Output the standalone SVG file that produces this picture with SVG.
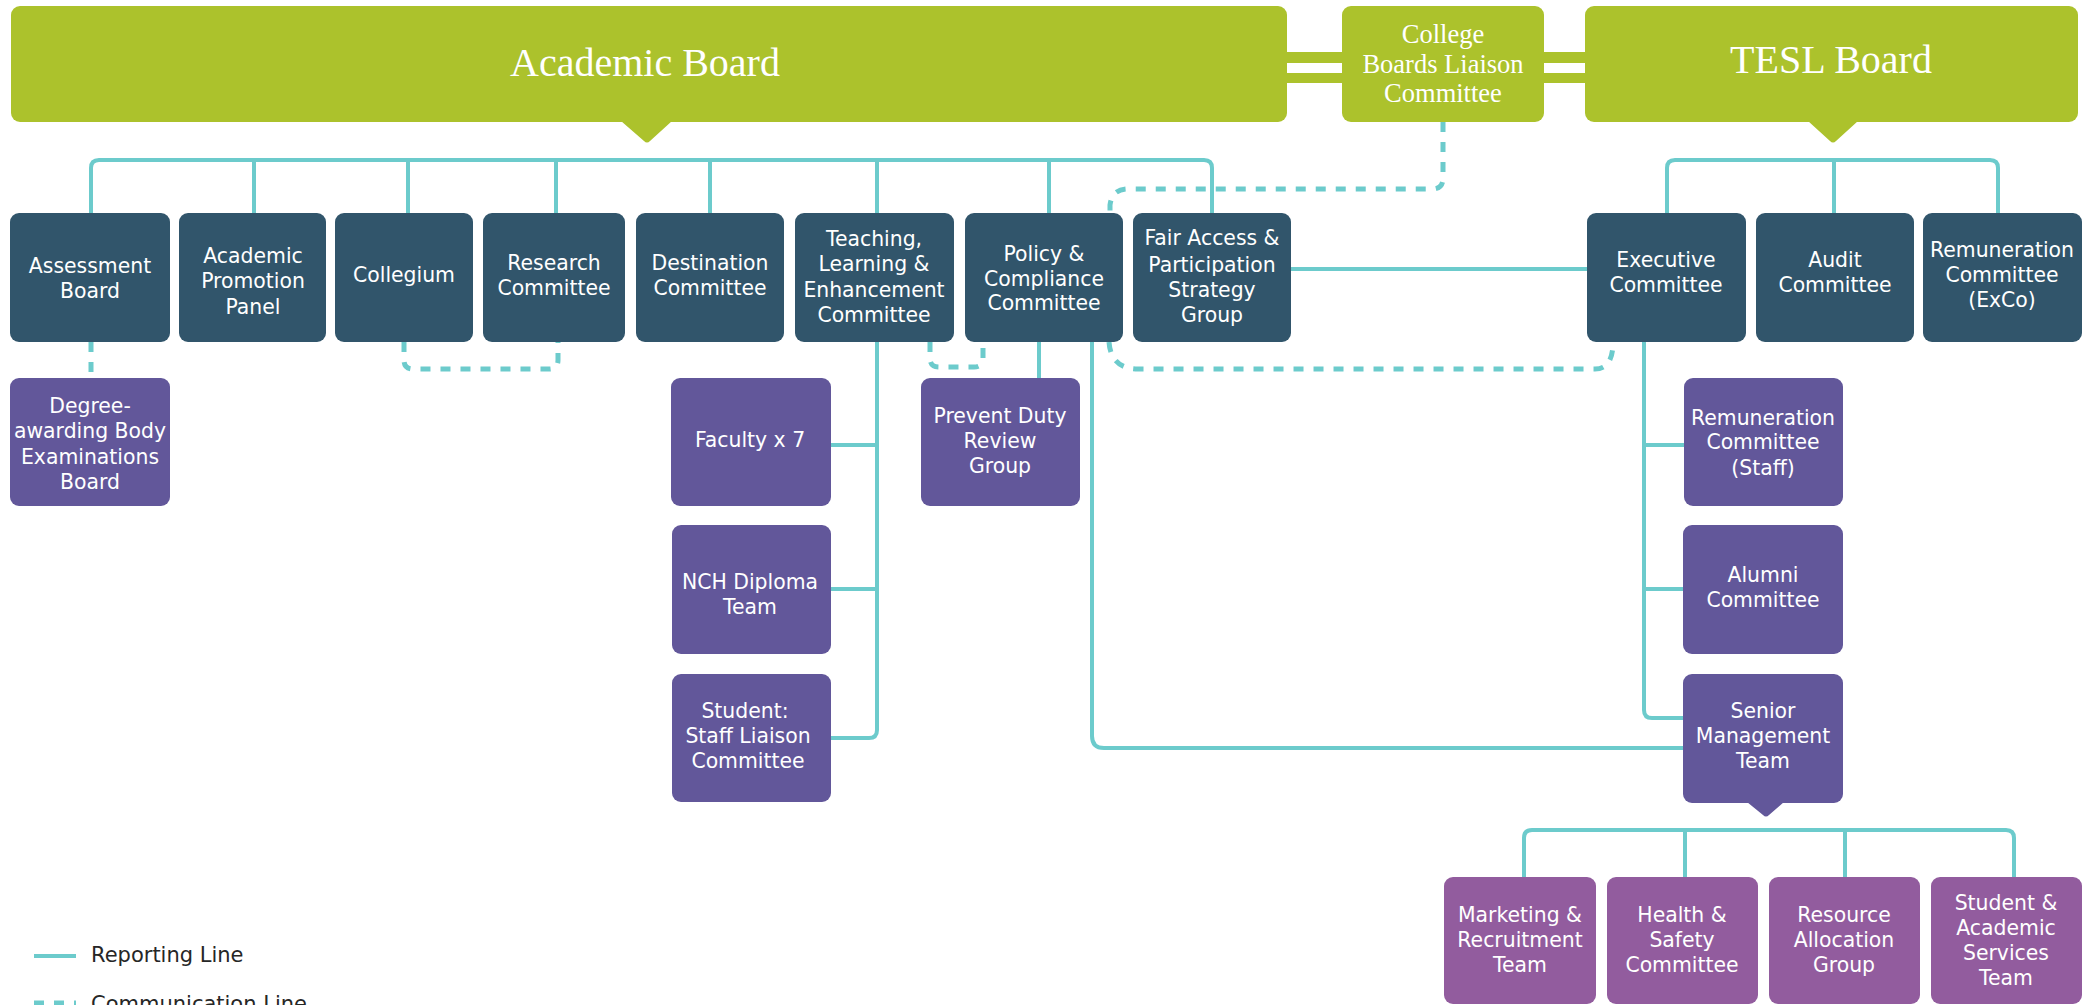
<svg xmlns="http://www.w3.org/2000/svg" width="2096" height="1005" viewBox="0 0 2096 1005">
<style>
.green{fill:#ACC22C}
.dark{fill:#31556B}
.purple{fill:#62579A}
.violet{fill:#925C9E}
.serif{font-family:"Liberation Serif","Times New Roman",serif;fill:#FFFFFF;text-anchor:middle}
.t{font-family:"DejaVu Sans",Verdana,sans-serif;font-size:20.4px;fill:#FFFFFF;text-anchor:middle}
.rep{fill:none;stroke:#6CCBCC;stroke-width:4}
.com{fill:none;stroke:#6CCBCC;stroke-width:5;stroke-dasharray:10 10}
.legend{font-family:"DejaVu Sans",Verdana,sans-serif;font-size:21px;fill:#262626}
</style>
<rect width="2096" height="1005" fill="#FFFFFF"/>

<g id="connectors">
  <rect class="green" x="1286" y="52" width="57" height="11"/>
  <rect class="green" x="1286" y="73" width="57" height="10"/>
  <rect class="green" x="1543" y="52" width="43" height="11"/>
  <rect class="green" x="1543" y="73" width="43" height="10"/>
  <path class="rep" d="M91,213 V168 Q91,160 99,160 H1204 Q1212,160 1212,168 V213"/>
  <path class="rep" d="M254,160 V213 M408,160 V213 M556,160 V213 M710,160 V213 M877,160 V213 M1049,160 V213"/>
  <path class="rep" d="M1667,213 V168 Q1667,160 1675,160 H1990 Q1998,160 1998,168 V213 M1834,160 V213"/>
  <path class="rep" d="M877,342 V730 Q877,738 869,738 H831 M831,445 H877 M831,589 H877"/>
  <path class="rep" d="M1039,342 V378"/>
  <path class="rep" d="M1092,342 V736 Q1092,748 1104,748 H1684"/>
  <path class="rep" d="M1291,269 H1587"/>
  <path class="rep" d="M1644,342 V710 Q1644,718 1652,718 H1684 M1644,445 H1684 M1644,589 H1684"/>
  <path class="rep" d="M1524,877 V838 Q1524,830 1532,830 H2006 Q2014,830 2014,838 V877 M1685,830 V877 M1845,830 V877"/>
  <path class="com" d="M91,342 V378"/>
  <path class="com" d="M404,342 V360 Q404,369 413,369 H549 Q558,369 558,360 V342"/>
  <path class="com" d="M930,342 V358 Q930,367 939,367 H974 Q983,367 983,358 V342"/>
  <path class="com" d="M1443,122 V178 Q1443,189 1432,189 H1128 Q1112,189 1110,205 V213"/>
  <path class="com" d="M1109,342 Q1111,369 1138,369 H1595 Q1613,369 1613,342"/>
</g>

<g id="academic-board">
  <rect class="green" x="11" y="6" width="1276" height="116" rx="9"/>
  <path class="green" d="M621,121 L672,121 L650,141 Q647,144 644,141 Z"/>
  <text class="serif" x="645" y="76" font-size="40">Academic Board</text>
</g>
<g id="college-boards-liaison">
  <rect class="green" x="1342" y="6" width="202" height="116" rx="9"/>
  <text class="serif" font-size="26.5"><tspan x="1443" y="43">College</tspan><tspan x="1443" y="73">Boards Liaison</tspan><tspan x="1443" y="102">Committee</tspan></text>
</g>
<g id="tesl-board">
  <rect class="green" x="1585" y="6" width="493" height="116" rx="9"/>
  <path class="green" d="M1808,121 L1858,121 L1836,141 Q1833,144 1830,141 Z"/>
  <text class="serif" x="1831" y="73" font-size="40">TESL Board</text>
</g>

<g id="assessment-board">
  <rect class="dark" x="10" y="213" width="160" height="129" rx="9"/>
  <text class="t"><tspan x="90" y="273">Assessment</tspan><tspan x="90" y="298">Board</tspan></text>
</g>
<g id="academic-promotion-panel">
  <rect class="dark" x="179" y="213" width="147" height="129" rx="9"/>
  <text class="t"><tspan x="253" y="263">Academic</tspan><tspan x="253" y="288">Promotion</tspan><tspan x="253" y="314">Panel</tspan></text>
</g>
<g id="collegium">
  <rect class="dark" x="335" y="213" width="138" height="129" rx="9"/>
  <text class="t" x="404" y="282">Collegium</text>
</g>
<g id="research-committee">
  <rect class="dark" x="483" y="213" width="142" height="129" rx="9"/>
  <text class="t"><tspan x="554" y="270">Research</tspan><tspan x="554" y="295">Committee</tspan></text>
</g>
<g id="destination-committee">
  <rect class="dark" x="636" y="213" width="148" height="129" rx="9"/>
  <text class="t"><tspan x="710" y="270">Destination</tspan><tspan x="710" y="295">Committee</tspan></text>
</g>
<g id="teaching-learning-enhancement">
  <rect class="dark" x="795" y="213" width="159" height="129" rx="9"/>
  <text class="t"><tspan x="874" y="246">Teaching,</tspan><tspan x="874" y="271">Learning &amp;</tspan><tspan x="874" y="297">Enhancement</tspan><tspan x="874" y="322">Committee</tspan></text>
</g>
<g id="policy-compliance">
  <rect class="dark" x="965" y="213" width="158" height="129" rx="9"/>
  <text class="t"><tspan x="1044" y="261">Policy &amp;</tspan><tspan x="1044" y="286">Compliance</tspan><tspan x="1044" y="310">Committee</tspan></text>
</g>
<g id="fair-access">
  <rect class="dark" x="1133" y="213" width="158" height="129" rx="9"/>
  <text class="t"><tspan x="1212" y="245">Fair Access &amp;</tspan><tspan x="1212" y="272">Participation</tspan><tspan x="1212" y="297">Strategy</tspan><tspan x="1212" y="322">Group</tspan></text>
</g>
<g id="executive-committee">
  <rect class="dark" x="1587" y="213" width="159" height="129" rx="9"/>
  <text class="t"><tspan x="1666" y="267">Executive</tspan><tspan x="1666" y="292">Committee</tspan></text>
</g>
<g id="audit-committee">
  <rect class="dark" x="1756" y="213" width="158" height="129" rx="9"/>
  <text class="t"><tspan x="1835" y="267">Audit</tspan><tspan x="1835" y="292">Committee</tspan></text>
</g>
<g id="remuneration-exco">
  <rect class="dark" x="1923" y="213" width="159" height="129" rx="9"/>
  <text class="t"><tspan x="2002" y="257">Remuneration</tspan><tspan x="2002" y="282">Committee</tspan><tspan x="2002" y="307">(ExCo)</tspan></text>
</g>

<g id="degree-awarding">
  <rect class="purple" x="10" y="378" width="160" height="128" rx="9"/>
  <text class="t"><tspan x="90" y="413">Degree-</tspan><tspan x="90" y="438">awarding Body</tspan><tspan x="90" y="464">Examinations</tspan><tspan x="90" y="489">Board</tspan></text>
</g>
<g id="faculty">
  <rect class="purple" x="671" y="378" width="160" height="128" rx="9"/>
  <text class="t" x="750" y="447">Faculty x 7</text>
</g>
<g id="prevent-duty">
  <rect class="purple" x="921" y="378" width="159" height="128" rx="9"/>
  <text class="t"><tspan x="1000" y="423">Prevent Duty</tspan><tspan x="1000" y="448">Review</tspan><tspan x="1000" y="473">Group</tspan></text>
</g>
<g id="remuneration-staff">
  <rect class="purple" x="1684" y="378" width="159" height="128" rx="9"/>
  <text class="t"><tspan x="1763" y="425">Remuneration</tspan><tspan x="1763" y="449">Committee</tspan><tspan x="1763" y="475">(Staff)</tspan></text>
</g>
<g id="nch-diploma">
  <rect class="purple" x="672" y="525" width="159" height="129" rx="9"/>
  <text class="t"><tspan x="750" y="589">NCH Diploma</tspan><tspan x="750" y="614">Team</tspan></text>
</g>
<g id="alumni-committee">
  <rect class="purple" x="1683" y="525" width="160" height="129" rx="9"/>
  <text class="t"><tspan x="1763" y="582">Alumni</tspan><tspan x="1763" y="607">Committee</tspan></text>
</g>
<g id="student-staff-liaison">
  <rect class="purple" x="672" y="674" width="159" height="128" rx="9"/>
  <text class="t"><tspan x="745" y="718">Student:</tspan><tspan x="748" y="743">Staff Liaison</tspan><tspan x="748" y="768">Committee</tspan></text>
</g>
<g id="senior-management">
  <rect class="purple" x="1683" y="674" width="160" height="129" rx="9"/>
  <path class="purple" d="M1747,802 L1784,802 L1769,815 Q1766,818 1763,815 Z"/>
  <text class="t"><tspan x="1763" y="718">Senior</tspan><tspan x="1763" y="743">Management</tspan><tspan x="1763" y="768">Team</tspan></text>
</g>

<g id="marketing-recruitment">
  <rect class="violet" x="1444" y="877" width="152" height="127" rx="9"/>
  <text class="t"><tspan x="1520" y="922">Marketing &amp;</tspan><tspan x="1520" y="947">Recruitment</tspan><tspan x="1520" y="972">Team</tspan></text>
</g>
<g id="health-safety">
  <rect class="violet" x="1607" y="877" width="151" height="127" rx="9"/>
  <text class="t"><tspan x="1682" y="922">Health &amp;</tspan><tspan x="1682" y="947">Safety</tspan><tspan x="1682" y="972">Committee</tspan></text>
</g>
<g id="resource-allocation">
  <rect class="violet" x="1769" y="877" width="151" height="127" rx="9"/>
  <text class="t"><tspan x="1844" y="922">Resource</tspan><tspan x="1844" y="947">Allocation</tspan><tspan x="1844" y="972">Group</tspan></text>
</g>
<g id="student-academic-services">
  <rect class="violet" x="1931" y="877" width="151" height="127" rx="9"/>
  <text class="t"><tspan x="2006" y="910">Student &amp;</tspan><tspan x="2006" y="935">Academic</tspan><tspan x="2006" y="960">Services</tspan><tspan x="2006" y="985">Team</tspan></text>
</g>

<g id="legend">
  <path class="rep" d="M34,956 H76"/>
  <text class="legend" x="91" y="962">Reporting Line</text>
  <path class="com" d="M34,1003 H76" stroke-dasharray="11 10"/>
  <text class="legend" x="91" y="1011">Communication Line</text>
</g>
</svg>
